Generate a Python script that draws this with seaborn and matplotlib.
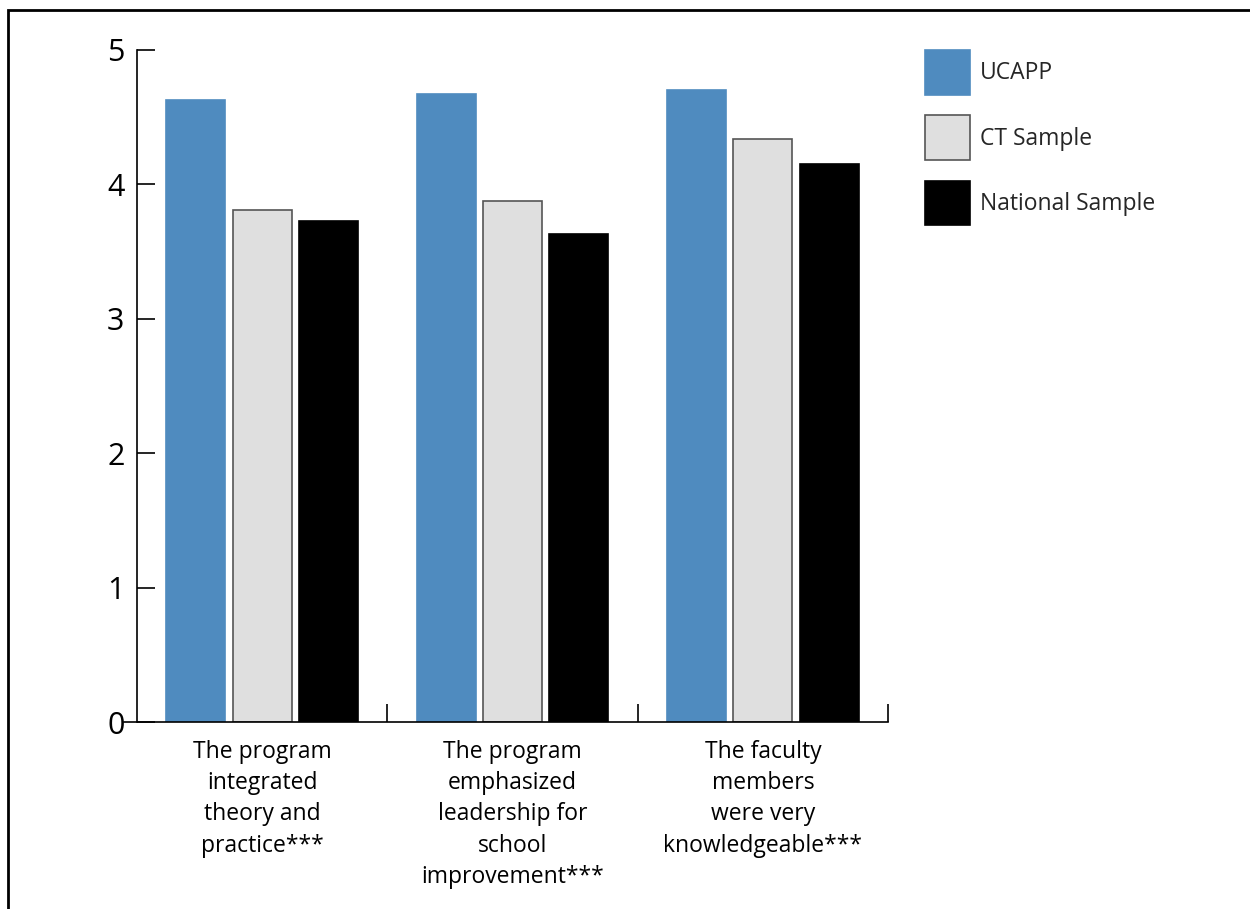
import matplotlib.pyplot as plt
import matplotlib.patches as mpatches
import pandas as pd
import seaborn as sns

# Data
categories = [
    "The program\nintegrated\ntheory and\npractice***",
    "The program\nemphasized\nleadership for\nschool\nimprovement***",
    "The faculty\nmembers\nwere very\nknowledgeable***",
]
groups = ["UCAPP", "CT Sample", "National Sample"]
ucapp = [4.63, 4.67, 4.70]
ct_sample = [3.81, 3.88, 4.34]
national = [3.73, 3.63, 4.15]

colors = ["#4f8bbf", "#dfdfdf", "#000000"]
edges = ["#4f8bbf", "#555555", "#000000"]

df = pd.DataFrame({
    "category": categories * 3,
    "group": [g for g in groups for _ in categories],
    "value": ucapp + ct_sample + national,
})

sns.set_style("white")
plt.rcParams["font.family"] = ["Open Sans", "DejaVu Sans"]

fig = plt.figure(figsize=(12.5, 9.09), dpi=100)
ax = fig.add_axes([0.1096, 0.2057, 0.6008, 0.7393])

sns.barplot(
    data=df,
    x="category",
    y="value",
    hue="group",
    hue_order=groups,
    order=categories,
    palette=colors,
    saturation=1,
    width=0.795,
    gap=0.11,
    ax=ax,
)

for cont, ec in zip(ax.containers, edges):
    for bar in cont:
        bar.set_edgecolor(ec)
        bar.set_linewidth(1.2)

ax.set_xlim(-0.5, 2.5)
ax.set_ylim(0, 5)
ax.set_yticks([0, 1, 2, 3, 4, 5])
ax.tick_params(axis="y", direction="in", length=13, width=1.2,
               labelsize=22, pad=9, colors="black", left=True)
ax.set_xticks([0, 1, 2])
ax.set_xticklabels(categories, fontsize=16.5, linespacing=1.4)
ax.tick_params(axis="x", length=0, pad=13, colors="black")
ax.set_xticks([0.5, 1.5, 2.5], minor=True)
ax.tick_params(axis="x", which="minor", direction="in", length=13,
               width=1.2, bottom=True, color="black")

ax.set_xlabel("")
ax.set_ylabel("")
for side in ["top", "right"]:
    ax.spines[side].set_visible(False)
for side in ["left", "bottom"]:
    ax.spines[side].set_color("black")
    ax.spines[side].set_linewidth(1.2)
ax.spines["bottom"].set_bounds(-0.552, 2.5)

# Legend
handles = [
    mpatches.Patch(facecolor=c, edgecolor=e, linewidth=1.2)
    for c, e in zip(colors, edges)
]
ax.get_legend().remove()
fig.legend(
    handles,
    groups,
    loc="upper left",
    bbox_to_anchor=(0.74, 0.945),
    frameon=False,
    fontsize=16.5,
    handlelength=1.96,
    handleheight=2.62,
    handletextpad=0.45,
    labelspacing=0.9,
    borderpad=0,
    borderaxespad=0,
)

# Outer border (only top and left visible)
fig.add_artist(mpatches.Rectangle(
    (8 / 1250, -0.2), 1.2, 0.2 + 1 - 10 / 909,
    transform=fig.transFigure, fill=False,
    edgecolor="black", linewidth=2, clip_on=False,
))

fig.savefig("out.png", dpi=100)
